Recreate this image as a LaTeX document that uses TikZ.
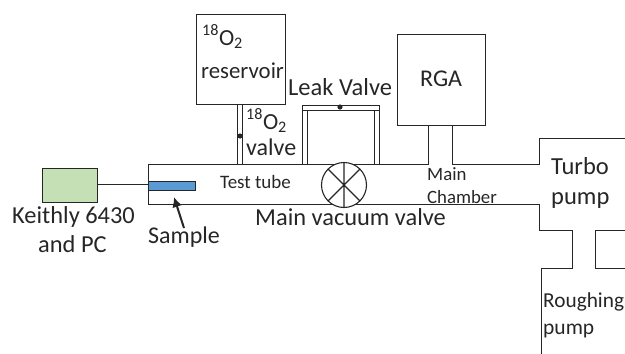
\documentclass[tikz,border=0pt]{standalone}
\usepackage{fontspec}
\usetikzlibrary{arrows.meta}
\setmainfont{Carlito}
\definecolor{ink}{HTML}{262626}
\tikzset{
  wall/.style={draw=ink,line width=1.1pt,line join=miter},
  boxshape/.style={draw=ink,line width=1.1pt,inner sep=0pt,outer sep=0pt,minimum width=#1},
  lab/.style={text=ink,inner sep=0pt,anchor=base west,font=\fontsize{#1}{#1}\selectfont},
  lab/.default=24,
}
\begin{document}
\begin{tikzpicture}[x=1pt,y=-1pt]
\useasboundingbox (0,0) rectangle (625,354);
% boxes
\node[boxshape=89pt,minimum height=90pt,anchor=north west] (res) at (196.5,14.5) {};
\node[boxshape=88pt,minimum height=91pt,anchor=north west] (rga) at (397.5,34.5) {};
\node[boxshape=55pt,minimum height=34pt,anchor=north west,fill={rgb,255:red,197;green,224;blue,180}] (keith) at (42.5,168.5) {};
% main tube and chamber
\draw[wall] (428.5,125.5) -- (428.5,164.5) -- (148.5,164.5) -- (148.5,204.5) -- (539.5,204.5) -- (539.5,230.5) -- (572.5,230.5) -- (572.5,268.5) -- (541.5,268.5) -- (541.5,354);
\draw[wall] (452.5,125.5) -- (452.5,164.5) -- (539.5,164.5) -- (539.5,138.5) -- (625,138.5);
\draw[wall] (625,230.5) -- (595.5,230.5) -- (595.5,268.5) -- (625,268.5);
% 18O2 valve
\draw[wall] (237.5,104.5) -- (237.5,164.5) (242.5,104.5) -- (242.5,164.5);
\fill[ink] (240,136) circle (2.6);
% leak valve
\draw[wall] (302.5,164.5) -- (302.5,105.5) -- (379.5,105.5) -- (379.5,164.5);
\draw[wall] (307.5,164.5) -- (307.5,110.5) -- (374.5,110.5) -- (374.5,164.5);
\draw[wall] (302.5,110.5) -- (307.5,110.5) (374.5,110.5) -- (379.5,110.5);
\fill[ink] (340,107) circle (2.6);
% main valve
\node[draw=ink,line width=1.1pt,circle,minimum size=45pt,inner sep=0pt,outer sep=0pt,fill=white] (mv) at (344,185) {};
\draw[wall] (mv.north) -- (mv.south) (mv.45) -- (mv.225) (mv.135) -- (mv.315);
% sample
\node[boxshape=47pt,fill={rgb,255:red,91;green,155;blue,213},minimum height=9pt,anchor=north west] (sam) at (148.5,181.5) {};
\coordinate (tubeleft) at (148.5,184.5);
\draw[ink,line width=0.9pt] (keith.east |- tubeleft) -- (tubeleft);
% labels
\node[lab=23] at (202,45) {\textsuperscript{18}O\textsubscript{2}};
\node[lab=22.8] at (201,78) {reservoir};
\node[lab=23] at (246,129) {\textsuperscript{18}O\textsubscript{2}};
\node[lab=24] at (246,155) {valve};
\node[lab=24.5] at (288,95) {Leak Valve};
\node[lab=24] at (420,86) {RGA};
\node[lab=19] at (220,188) {Test tube};
\node[lab=18.8] at (427,180) {Main};
\node[lab=18.8] at (427,203) {Chamber};
\node[lab=24.5] at (551,174) {Turbo};
\node[lab=24.5] at (551,204) {pump};
\node[lab=24.4] at (255,225) {Main vacuum valve};
\node[lab=24.4] at (12,223) {Keithly 6430};
\node[lab=24.4] at (38,252) {and PC};
\node[lab=24] (samlab) at (148,243) {Sample};
\node[lab=21.3] at (543,307) {Roughing};
\node[lab=21.5] at (543,334) {pump};
\coordinate (tip) at (174,197);
\draw[ink,line width=2pt,-{Latex[length=10pt,width=10pt]}] (184,228) -- (tip);
\end{tikzpicture}
\end{document}
